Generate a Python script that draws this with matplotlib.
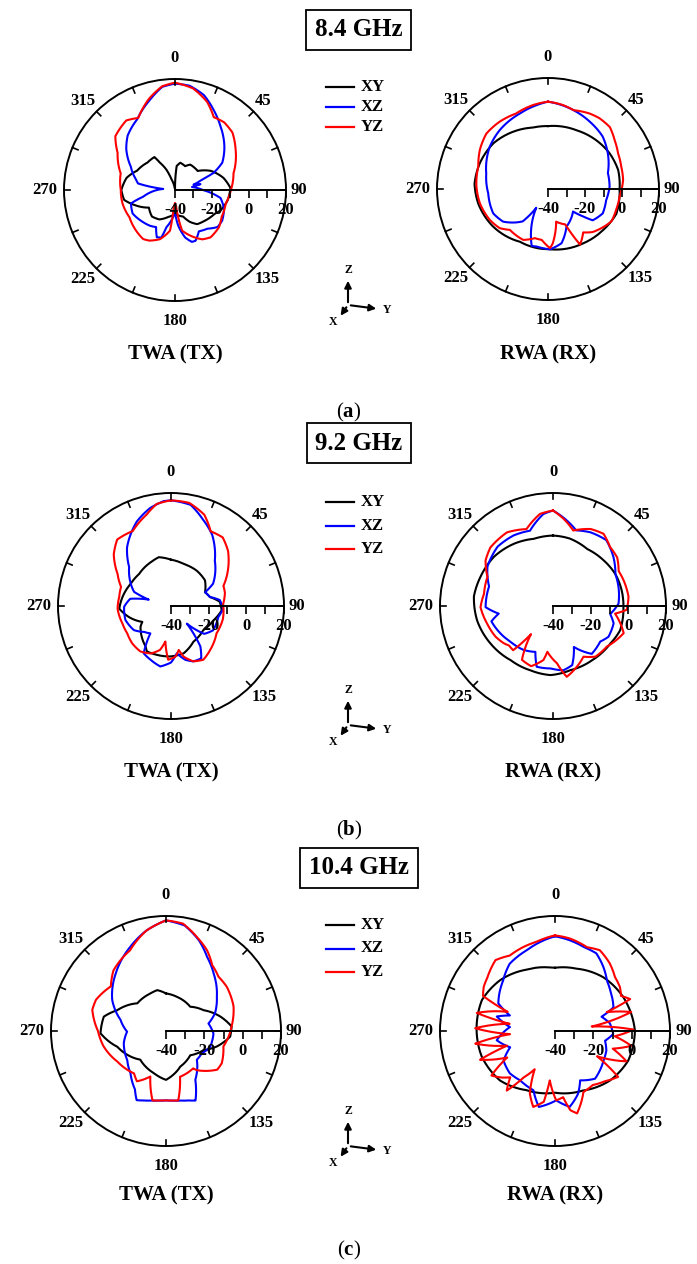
import numpy as np
import matplotlib
matplotlib.use("Agg")
import matplotlib.pyplot as plt
from matplotlib.lines import Line2D
from matplotlib.patches import FancyArrowPatch

plt.rcParams["font.family"] = "Liberation Serif"
plt.rcParams["font.weight"] = "bold"
plt.rcParams["mathtext.fontset"] = "custom"
plt.rcParams["mathtext.rm"] = "Liberation Serif"
plt.rcParams["mathtext.bf"] = "Liberation Serif:bold"

# ---------------------------------------------------------------
# Radiation patterns: angle (deg) and normalised gain (dB)
# ---------------------------------------------------------------
# 8.4 GHz, TWA (TX)
a_tx_xy_ang = [0, 4, 11, 23, 31, 50, 62, 76, 88, 101, 114, 121, 137, 147, 155, 163, 180, 194, 208, 221, 236, 249, 259, 270, 284, 297, 315, 328, 331, 337, 342, 352]
a_tx_xy_db = [-39, -27, -25, -26, -24, -24, -18, -13, -10, -11, -13, -15, -17, -18, -21, -25, -27, -25, -22, -21, -23, -17, -12, -11, -13, -17, -19, -19, -23, -28, -34, -39]
a_tx_xz_ang = [0, 8, 17, 26, 35, 48, 60, 66, 69, 74, 77, 80, 90, 100, 111, 123, 131, 140, 150, 158, 162, 168, 175, 180, 193, 196, 201, 207, 215, 225, 241, 253, 258, 275, 280, 285, 298, 310, 319, 332, 344, 353]
a_tx_xz_db = [17.5, 16.9, 13.6, 7.9, 2.6, -4.1, -10.5, -17.1, -24.4, -29.6, -25.9, -30.7, -25, -15, -11.6, -9.6, -9.5, -12.7, -14.2, -10.4, -10.5, -13.8, -20.8, -28, -19.3, -13.3, -12.6, -17.5, -16.4, -15.5, -13.8, -15.1, -22.3, -33.6, -19.7, -18.2, -12.9, -5.6, -1, 3.4, 10.3, 16.2]
a_tx_yz_ang = [0, 10, 20, 28, 36, 45, 56, 74, 90, 105, 120, 130, 143, 151, 158, 170, 176, 180, 184, 187, 197, 207, 213, 224, 239, 256, 270, 287, 303, 312, 325, 333, 344, 353]
a_tx_yz_db = [18, 15.8, 10.7, 4.6, 5.2, 3.9, -0.5, -7.1, -9.8, -11.6, -10.9, -8.9, -8, -9.5, -12.5, -17.7, -31, -33, -31, -17.9, -12.2, -9.3, -8.4, -9.6, -11.3, -10.7, -10.7, -9.3, -3, 3.4, 5.9, 3.7, 11.2, 16.5]

# 8.4 GHz, RWA (RX)
a_rx_xy_ang = [0, 26, 45, 60, 75, 90, 110, 127, 147, 178, 208, 236, 258, 274, 291, 310, 329, 346]
a_rx_xy_db = [-6, -4.7, -2.9, -1.5, -0.7, -1.3, -0.7, -2.9, -5, -7.4, -7.7, -4, -1.5, -0.2, -0.6, -1.5, -3.8, -5.8]
a_rx_xz_ang = [0, 15, 32, 46, 59, 75, 88, 101, 114, 125, 128, 132, 154, 166, 178, 191, 196, 212, 218, 234, 246, 266, 284, 306, 321, 340, 352]
a_rx_xz_db = [7.2, 5.2, 2.8, 1, -2.3, -6.5, -6.7, -8, -7.6, -10.5, -15.9, -21.8, -17.3, -9.8, -7.4, -8.3, -8, -28, -17.8, -10, -7.6, -7.6, -5.6, -1.1, 1.2, 3.6, 5.7]
a_rx_yz_ang = [0, 10, 18, 29, 36, 45, 54, 63, 73, 83, 96, 107, 117, 134, 141, 150, 154, 166, 175, 178, 187, 195, 206, 223, 231, 242, 258, 272, 288, 300, 312, 324, 337, 350]
a_rx_yz_db = [7.2, 6.1, 4.8, 6.6, 7.3, 7.3, 4.6, 2.5, 1.4, 0.9, -1.1, -1.5, -1.5, -6.5, -9.8, -5.3, -18.7, -21.8, -10.5, -8, -12.3, -12.5, -9.4, -9.8, -6.4, -4.4, -2.4, -1.3, -0.4, 2.5, 4.8, 4.8, 4.3, 6.1]

# 9.2 GHz, TWA (TX)
b_tx_xy_ang = [0, 17, 36, 53, 68, 77, 85, 95, 109, 127, 148, 165, 181, 196, 208, 212, 236, 241, 255, 267, 299, 315, 335, 346]
b_tx_xy_db = [-15.4, -16.7, -16.8, -17.4, -20.5, -18.8, -14, -13, -16.3, -18.6, -17.6, -14, -13.2, -13, -12.7, -14.6, -20.5, -22.6, -17, -12.5, -15.6, -16, -14.4, -13.3]
b_tx_xz_ang = [0, 11, 20, 30, 44, 62, 68, 77, 83, 93, 103, 120, 130, 138, 144, 150, 158, 165, 173, 180, 190, 201, 210, 214, 217, 226, 237, 253, 269, 280, 286, 291, 313, 323, 338, 348, 356]
b_tx_xz_db = [16.1, 14.7, 9.1, 3.7, -6.5, -14.7, -20.5, -18.8, -13.9, -12.3, -14.2, -14.2, -17, -27.4, -13.5, -7.9, -8.3, -10.4, -14.7, -10, -7.4, -9.5, -11, -17.2, -21.8, -20.2, -16.5, -14.7, -15.1, -18, -27.7, -19, -9.6, -1.2, 8.4, 13.2, 15.8]
b_tx_yz_ang = [0, 10, 20, 28, 37, 46, 58, 69, 76, 88, 104, 121, 138, 149, 158, 166, 170, 175, 183, 189, 194, 203, 214, 226, 238, 250, 267, 280, 291, 301, 312, 321, 333, 345, 352]
b_tx_yz_db = [16.1, 15.6, 11.6, 4.9, 5.6, 2.1, -4.4, -10.2, -10.5, -12.3, -11.6, -11.8, -8.8, -6.7, -8.3, -12.3, -16.3, -13, -11.4, -20.9, -16, -12.6, -10.9, -11.4, -12.6, -12.6, -11.6, -12.1, -11.6, -6.9, 0.9, 5.4, 4.7, 10.2, 14.7]

# 9.2 GHz, RWA (RX)
b_rx_xy_ang = [0, 14, 31, 48, 63, 77, 91, 110, 123, 144, 165, 182, 199, 218, 239, 259, 277, 292, 310, 328, 344]
b_rx_xy_db = [-2.6, -3.1, -4.7, -3.8, -2.8, -2.6, -2.6, -2.1, -3.6, -4.5, -4.7, -3.3, -3.8, -3.5, -1.3, 1, 2.3, 1.5, 0.8, -1, -2.9]
b_rx_xz_ang = [0, 8, 17, 27, 39, 51, 63, 74, 88, 98, 106, 119, 127, 141, 153, 162, 171, 182, 195, 201, 214, 230, 242, 256, 262, 269, 287, 301, 317, 331, 343, 354]
b_rx_xz_db = [10.7, 6.6, 2, 3.9, 5, 1.3, -2.8, -3.8, -5.2, -9.3, -6.5, -6.3, -8.6, -7.3, -15.6, -7, -5.4, -6.8, -6.6, -13.9, -11.9, -10.5, -8.6, -6.3, -10.9, -4.2, -4.5, 0.6, 3.1, 2.9, 1.8, 9.1]
b_rx_yz_ang = [0, 7, 15, 26, 35, 44, 53, 62, 70, 83, 93, 97, 111, 127, 140, 149, 159, 169, 176, 187, 190, 200, 210, 218, 222, 228, 233, 242, 255, 269, 280, 294, 304, 313, 328, 341, 352]
b_rx_yz_db = [10.7, 6.6, 1.5, 5.5, 6.8, 3.6, 2.7, -0.5, -0.1, 0.4, -0.8, -6.8, 0.2, -4.2, -4.9, -8.6, -5.2, -1.7, -9.5, -15.5, -10.9, -6, -7, -21, -8.4, -8.6, -7.2, -5.4, -3.8, -1.5, -2.8, -1.9, 3.2, 5.5, 6.1, 3.2, 9.4]

# 10.4 GHz, TWA (TX)
c_tx_xy_ang = [0, 18, 45, 61, 75, 86, 95, 107, 117, 135, 158, 180, 196, 222, 252, 268, 283, 293, 314, 337, 348]
c_tx_xy_db = [-20.4, -21.3, -22.1, -17.6, -10.7, -5.7, -6.4, -12.3, -18, -22.1, -20, -14.5, -17.1, -19.9, -13.3, -5.8, -6.7, -12.3, -19.2, -18.8, -18.2]
c_tx_xz_ang = [0, 10, 20, 29, 40, 56, 70, 80, 93, 110, 122, 133, 149, 157, 162, 168, 174, 180, 186, 192, 198, 203, 208, 220, 233, 254, 269, 284, 300, 319, 337, 349]
c_tx_xz_db = [17.7, 15.9, 10.3, 4.2, -1.2, -8, -12.8, -17.5, -15.2, -15.5, -18, -18, -10.3, -0.6, -1.9, -2.9, -3.5, -3.8, -3.5, -2.9, -1.9, -0.8, -5.5, -11.2, -14.7, -17.1, -19.7, -15.5, -7.6, -0.1, 7.7, 13.4]
c_tx_yz_ang = [0, 9, 18, 27, 35, 44, 54, 70, 86, 95, 105, 120, 127, 142, 144, 163, 170, 175, 180, 185, 191, 199, 210, 217, 238, 256, 270, 286, 294, 309, 319, 336, 349]
c_tx_yz_db = [17.7, 16.7, 11.7, 7.2, 2, -0.6, -0.8, -2.5, -5.7, -7.2, -9, -6.4, -6.5, -14.1, -15.9, -15, -3.2, -3.6, -3.8, -3.6, -3.1, -14.9, -9.7, -12.3, -10, -6.5, -4.5, 0, 0, -3, 1.8, 6.1, 13.4]

# 10.4 GHz, RWA (RX)
c_rx_xy_ang = [0, 19, 42, 64, 90, 112, 132, 155, 180, 206, 228, 251, 270, 293, 313, 335, 356]
c_rx_xy_db = [-7, -5.6, -2.3, -0.2, 1.7, 1.2, -1.4, -5.7, -7.8, -5.7, -1.4, 0.5, 0.9, 1.4, -1, -4.7, -6.8]
c_rx_xz_ang = [0, 9, 19, 28, 37, 46, 54, 68, 73, 82, 93, 101, 111, 121, 140, 153, 160, 169, 179, 192, 200, 215, 227, 240, 250, 261, 275, 284, 289, 296, 314, 326, 341, 353]
c_rx_xz_db = [9.4, 8, 6.3, 5.9, 1.9, -2.3, -4.3, -7.1, -14.6, -11.1, -9.6, -13.4, -11.3, -10.4, -7.5, -11.1, -5, 0.3, -3.8, 0.5, -7.1, -8.5, -7.7, -9, -15.1, -9.2, -16.4, -8.7, -15.1, -7.1, -2.3, 2.3, 4.7, 7.7]
c_rx_yz_ang = [0, 9, 21, 29, 39, 48, 56, 62, 67, 70, 76, 83, 89, 95, 101, 107, 113, 121, 126, 135, 145, 155, 165, 169, 173, 179, 186, 189, 196, 202, 208, 214, 219, 224, 229, 235, 241, 249, 253, 261, 266, 272, 279, 283, 292, 296, 302, 308, 320, 329, 339, 348]
c_rx_yz_db = [9.9, 8.9, 6.8, 8.2, 5.4, 2.1, 0.9, -1, 2.6, -11.3, 1, -20.7, 1, -8.7, 0.5, -8.5, 0.5, -14.4, 0.7, -3, -5.6, -4.9, 4.5, 2.1, -5.2, -3.8, -14.1, -2.6, 1.2, -4.9, -17.4, -10.8, 0, -6.4, -3, 0.5, -11.5, 1.9, -13.9, 2.1, -16.5, 1.7, -16, 1.9, -13.4, 1.8, 3.8, 4.9, 8.3, 5.9, 6.8, 7.5]

freq_labels = ["8.4 GHz", "9.2 GHz", "10.4 GHz"]
plane_labels = ["XY", "XZ", "YZ"]
plane_colors = ["black", "#0000ff", "#ff0000"]
angle_labels = [0, 45, 90, 135, 180, 225, 270, 315]
r_labels = [-40, -20, 0, 20]

W, H = 697, 1264
fig = plt.figure(figsize=(W / 100, H / 100), dpi=100)


def fx(x):
    return x / W


def fy(y):
    return 1 - y / H


# offsets (px) and alignment of the angle labels around the rim
label_pos = {
    0: ((0, 13), "center", "bottom"),
    45: ((1, 3), "left", "bottom"),
    90: ((5, 0), "left", "center"),
    135: ((1, -3), "left", "top"),
    180: ((0, -12), "center", "top"),
    225: ((-1, -3), "right", "top"),
    270: ((-7, 0), "right", "center"),
    315: ((-1, 3), "right", "bottom"),
}


def polar_panel(cx, cy, R, curves):
    ax = fig.add_axes([fx(cx - R), fy(cy + R), 2 * R / W, 2 * R / H], projection="polar")
    ax.set_theta_zero_location("N")
    ax.set_theta_direction(-1)
    ax.set_ylim(-40, 20)
    ax.set_yticks([])
    ax.set_xticks([])
    ax.grid(False)
    ax.spines["polar"].set_linewidth(1.4)

    for ang, db, color in curves:
        t = np.deg2rad(list(ang) + [ang[0] + 360])
        line, = ax.plot(t, list(db) + [db[0]], color=color, lw=1.5)
        # let the polar transform bend each segment along theta
        line.get_path()._interpolation_steps = 16

    # inward rim ticks every 22.5 deg
    tick_len = 6 / R * 60
    for a in np.arange(0, 360, 22.5):
        ax.plot([np.deg2rad(a)] * 2, [20 - tick_len, 20], color="k", lw=1.2, clip_on=False)

    # radial scale drawn along the 90 deg direction
    ax.plot([np.pi / 2, np.pi / 2], [-40, 20], color="k", lw=1.4, clip_on=False)
    for v in range(-40, 21, 10):
        ax.plot(np.pi / 2, v, marker=3, ms=6, mew=1.2, color="k", clip_on=False)
    for v in r_labels:
        ax.annotate(str(v), (np.pi / 2, v), xytext=(0, -12), textcoords="offset pixels",
                    ha="center", va="top", fontsize=12, annotation_clip=False)

    for a in angle_labels:
        (dx, dy), ha, va = label_pos[a]
        ax.annotate(str(a), (np.deg2rad(a), 20), xytext=(dx, dy), textcoords="offset pixels",
                    ha=ha, va=va, fontsize=12, annotation_clip=False)
    return ax


def legend(y0, step):
    for i, (name, color) in enumerate(zip(plane_labels, plane_colors)):
        y = y0 + i * step
        fig.add_artist(Line2D([fx(326), fx(354)], [fy(y), fy(y)], color=color, lw=1.6))
        fig.text(fx(361), fy(y), name, ha="left", va="center", fontsize=12)


def triad(ox, oy):
    for tx, ty, name, lx, ly in [(ox, oy - 27, "Z", ox, oy - 35),
                                 (ox + 31, oy + 4, "Y", ox + 39, oy + 5),
                                 (ox - 9, oy + 13, "X", ox - 15, oy + 17)]:
        fig.add_artist(FancyArrowPatch((fx(ox), fy(oy)), (fx(tx), fy(ty)),
                                       transform=fig.transFigure, arrowstyle="-|>",
                                       mutation_scale=10, lw=1.5, color="k"))
        fig.text(fx(lx), fy(ly), name, ha="center", va="center", fontsize=8.5)


rows = [
    dict(title_y=30, leg_y=87, leg_step=20, triad_y=305, cap_y=354, tag_y=412,
         left=(175, 190, 111), right=(548, 189, 111),
         tx=[(a_tx_xy_ang, a_tx_xy_db), (a_tx_xz_ang, a_tx_xz_db), (a_tx_yz_ang, a_tx_yz_db)],
         rx=[(a_rx_xy_ang, a_rx_xy_db), (a_rx_xz_ang, a_rx_xz_db), (a_rx_yz_ang, a_rx_yz_db)]),
    dict(title_y=443, leg_y=502, leg_step=23.5, triad_y=725, cap_y=772, tag_y=830,
         left=(171, 606, 113), right=(553, 606, 113),
         tx=[(b_tx_xy_ang, b_tx_xy_db), (b_tx_xz_ang, b_tx_xz_db), (b_tx_yz_ang, b_tx_yz_db)],
         rx=[(b_rx_xy_ang, b_rx_xy_db), (b_rx_xz_ang, b_rx_xz_db), (b_rx_yz_ang, b_rx_yz_db)]),
    dict(title_y=868, leg_y=925, leg_step=23.5, triad_y=1146, cap_y=1195, tag_y=1250,
         left=(166, 1031, 115), right=(555, 1031, 115),
         tx=[(c_tx_xy_ang, c_tx_xy_db), (c_tx_xz_ang, c_tx_xz_db), (c_tx_yz_ang, c_tx_yz_db)],
         rx=[(c_rx_xy_ang, c_rx_xy_db), (c_rx_xz_ang, c_rx_xz_db), (c_rx_yz_ang, c_rx_yz_db)]),
]

for i, row in enumerate(rows):
    tx_curves = [(a, d, c) for (a, d), c in zip(row["tx"], plane_colors)]
    rx_curves = [(a, d, c) for (a, d), c in zip(row["rx"], plane_colors)]
    polar_panel(*row["left"], tx_curves)
    polar_panel(*row["right"], rx_curves)

    fig.text(fx(359), fy(row["title_y"]), freq_labels[i], ha="center", va="center", fontsize=18,
             bbox=dict(boxstyle="square,pad=0.35", fc="white", ec="black", lw=1.3))
    legend(row["leg_y"], row["leg_step"])
    triad(348, row["triad_y"])
    fig.text(fx(row["left"][0]), fy(row["cap_y"]), "TWA (TX)", ha="center", va="center", fontsize=15)
    fig.text(fx(row["right"][0]), fy(row["cap_y"]), "RWA (RX)", ha="center", va="center", fontsize=15)
    fig.text(fx(349), fy(row["tag_y"]), r"($\mathbf{%s}$)" % "abc"[i], ha="center", va="center",
             fontsize=15, fontweight="normal")

fig.savefig("out.png", dpi=100)
